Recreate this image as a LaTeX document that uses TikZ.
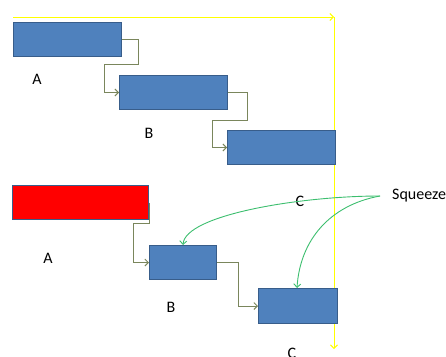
\documentclass[tikz,border=0pt]{standalone}
\usepackage{fontspec}
\setmainfont{Carlito}
\usetikzlibrary{arrows.meta,calc}
\definecolor{boxblue}{RGB}{79,129,189}
\definecolor{boxedge}{RGB}{56,93,138}
\definecolor{conncol}{RGB}{122,134,92}
\definecolor{yel}{RGB}{255,255,0}
\definecolor{grn}{RGB}{60,190,110}
\tikzset{
  bar/.style={draw=boxedge, line width=1pt, fill=boxblue, inner sep=0pt, anchor=north west},
  conn/.style={draw=conncol, line width=0.9pt, -{Straight Barb[length=3.5pt,width=7pt]}},
  axis/.style={draw=yel, line width=1pt, -{Straight Barb[length=3.5pt,width=7pt]}},
  squeeze/.style={draw=grn, line width=0.9pt, -{Straight Barb[length=3.5pt,width=7pt]}},
  lbl/.style={font=\fontsize{16}{18}\selectfont, inner sep=0pt}
}
\begin{document}
\begin{tikzpicture}[x=1pt,y=-1pt]
\useasboundingbox (0,0) rectangle (446,356);
% axes
\coordinate (ys) at (13,17);
\coordinate (yc) at (334,17);
\coordinate (ye) at (334,349);
\draw[axis] (ys) -- (yc);
\draw[axis] (yc) -- (ye);
% top schedule
\node[bar, minimum width=108pt, minimum height=34pt] (a1) at (13,22) {};
\node[bar, minimum width=108pt, minimum height=34pt] (b1) at (119,75) {};
\node[bar, minimum width=108pt, minimum height=34pt] (c1) at (227,130) {};
\draw[conn] (a1.east) -- ++(16,0) |- ++(-34,25) |- (b1.west);
\draw[conn] (b1.east) -- ++(19,0) |- ++(-35,28) |- (c1.west);
\node[lbl] (la1) at (37,79) {A};
\node[lbl] (lb1) at (149,133) {B};
\node[lbl] (lc1) at (300,201) {C};
% bottom schedule
\node[bar, fill=red, minimum width=136pt, minimum height=34pt] (a2) at (12,185) {};
\node[bar, minimum width=67pt, minimum height=34pt] (b2) at (149,245) {};
\node[bar, minimum width=79pt, minimum height=35pt] (c2) at (258,288) {};
\draw[conn] (a2.east) |- ++(-16,21) |- (b2.west);
\draw[conn] (b2.east) -- ++(21,0) |- (c2.west);
\node[lbl] (la2) at (48,258) {A};
\node[lbl] (lb2) at (171,307) {B};
\node[lbl] (lc2) at (292,353) {C};
% squeeze
\node[lbl, anchor=west] (sq) at (392,196) {Squeeze};
\coordinate (sqo) at (380,196);
\draw[squeeze] (sqo) .. controls (300,196) and (185,215) .. (b2.north);
\draw[squeeze] (sqo) .. controls (330,205) and (300,240) .. ($(c2.north west)+(39,0)$);
\end{tikzpicture}
\end{document}
